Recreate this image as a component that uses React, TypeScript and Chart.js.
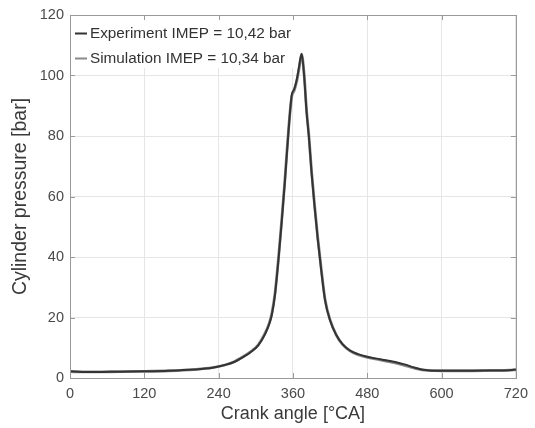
import React, { useEffect, useRef } from "react";
import { Chart, registerables } from "chart.js";

Chart.register(...registerables);

const crankAngle = [0, 20, 40, 80, 120, 160, 200, 230, 250, 265, 280, 292, 304, 315, 322, 326, 331, 337, 342, 347, 353, 358, 362, 366, 370, 374, 378, 382, 386, 390, 395, 400, 406, 412, 420, 430, 440, 452, 465, 480, 495, 510, 525, 540, 555, 568, 580, 600, 640, 680, 710, 720];
const experimentPressure = [2.2, 2.0, 2.0, 2.1, 2.2, 2.4, 2.8, 3.4, 4.3, 5.3, 7.0, 8.6, 10.8, 14.5, 18.0, 21.0, 27.5, 40.0, 52.0, 65.0, 82.0, 93.5, 95.5, 98.5, 103.0, 107.2, 100.0, 88.0, 79.0, 68.0, 56.5, 46.0, 35.0, 25.5, 19.0, 14.2, 11.2, 9.1, 7.9, 7.0, 6.4, 5.9, 5.3, 4.5, 3.5, 2.8, 2.5, 2.4, 2.4, 2.5, 2.6, 2.8];
const simulationPressure = [2.1, 2.0, 2.0, 2.1, 2.2, 2.4, 2.8, 3.4, 4.3, 5.4, 7.1, 8.7, 11.0, 14.8, 18.3, 21.5, 28.0, 40.5, 52.5, 65.5, 82.5, 93.0, 95.0, 98.0, 102.5, 107.0, 100.5, 88.5, 79.5, 68.5, 57.0, 46.5, 35.5, 25.8, 19.2, 14.2, 11.1, 9.0, 7.7, 6.8, 6.2, 5.6, 5.0, 4.2, 3.3, 2.7, 2.5, 2.4, 2.4, 2.5, 2.6, 2.7];
const xTickValues = [0, 120, 240, 360, 480, 600, 720];
const yTickValues = [0, 20, 40, 60, 80, 100, 120];
const seriesLabels = ["Experiment IMEP = 10,42 bar", "Simulation IMEP = 10,34 bar"];
const seriesColors = ["#333333", "#8a8a8a"];

const FONT = '"Liberation Sans", Arial, Helvetica, sans-serif';

const insideLegend = {
  id: "insideLegend",
  afterDatasetsDraw(chart: any) {
    const { ctx, chartArea } = chart;
    const l = chartArea.left;
    const t = chartArea.top;
    ctx.save();
    ctx.fillStyle = "#ffffff";
    ctx.fillRect(l + 1, t + 1, 226, 52);
    ctx.font = `15.3px ${FONT}`;
    ctx.textBaseline = "middle";
    ctx.textAlign = "left";
    seriesLabels.forEach((label, i) => {
      const y = t + 18.5 + i * 25;
      ctx.strokeStyle = seriesColors[i];
      ctx.lineWidth = 2;
      ctx.beginPath();
      ctx.moveTo(l + 5, y);
      ctx.lineTo(l + 17, y);
      ctx.stroke();
      ctx.fillStyle = "#333333";
      ctx.fillText(label, l + 20, y + 0.5);
    });
    ctx.restore();
  },
};

const axesFrame = {
  id: "axesFrame",
  afterDraw(chart: any) {
    const { ctx, chartArea, scales } = chart;
    const { left, right, top, bottom } = chartArea;
    ctx.save();
    ctx.strokeStyle = "#9a9a9a";
    ctx.lineWidth = 1;
    ctx.strokeRect(Math.round(left) + 0.5, Math.round(top) + 0.5, Math.round(right - left), Math.round(bottom - top));
    ctx.beginPath();
    xTickValues.forEach((v) => {
      const x = Math.round(scales.x.getPixelForValue(v)) + 0.5;
      ctx.moveTo(x, bottom);
      ctx.lineTo(x, bottom - 5);
      ctx.moveTo(x, top);
      ctx.lineTo(x, top + 5);
    });
    yTickValues.forEach((v) => {
      const y = Math.round(scales.y.getPixelForValue(v)) + 0.5;
      ctx.moveTo(left, y);
      ctx.lineTo(left + 5, y);
      ctx.moveTo(right, y);
      ctx.lineTo(right - 5, y);
    });
    ctx.stroke();
    ctx.restore();
  },
};

export default function App() {
  const canvasRef = useRef<HTMLCanvasElement | null>(null);

  useEffect(() => {
    if (!canvasRef.current) return;
    const chart = new Chart(canvasRef.current, {
      type: "line",
      data: {
        datasets: [
          {
            label: seriesLabels[0],
            data: crankAngle.map((x, i) => ({ x, y: experimentPressure[i] })),
            borderColor: seriesColors[0],
            borderWidth: 2,
            pointRadius: 0,
            cubicInterpolationMode: "monotone",
            fill: false,
          },
          {
            label: seriesLabels[1],
            data: crankAngle.map((x, i) => ({ x, y: simulationPressure[i] })),
            borderColor: seriesColors[1],
            borderWidth: 2.8,
            pointRadius: 0,
            cubicInterpolationMode: "monotone",
            fill: false,
          },
        ],
      },
      options: {
        animation: false,
        responsive: true,
        maintainAspectRatio: false,
        layout: { padding: { left: 0, top: 15, right: 16, bottom: 0 } },
        plugins: {
          legend: { display: false },
          tooltip: { enabled: false },
        },
        scales: {
          x: {
            type: "linear",
            min: 0,
            max: 720,
            afterFit: (s: any) => {
              s.height = 50;
            },
            afterBuildTicks: (s: any) => {
              s.ticks = xTickValues.map((v) => ({ value: v }));
            },
            ticks: {
              font: { family: FONT, size: 14.5 },
              color: "#4a4a4a",
              padding: 7,
              maxRotation: 0,
              autoSkip: false,
            },
            grid: { color: "#e6e6e6", drawTicks: false },
            border: { display: false },
            title: {
              display: true,
              text: "Crank angle [°CA]",
              font: { family: FONT, size: 18 },
              color: "#3a3a3a",
              padding: { top: 0, bottom: 3 },
            },
          },
          y: {
            type: "linear",
            min: 0,
            max: 120,
            afterFit: (s: any) => {
              s.width = 70;
            },
            afterBuildTicks: (s: any) => {
              s.ticks = yTickValues.map((v) => ({ value: v }));
            },
            ticks: {
              font: { family: FONT, size: 14.5 },
              color: "#4a4a4a",
              padding: 6,
            },
            grid: { color: "#e6e6e6", drawTicks: false },
            border: { display: false },
            title: {
              display: true,
              text: "Cylinder pressure [bar]",
              font: { family: FONT, size: 19.5 },
              color: "#3a3a3a",
              padding: { top: 9, bottom: 0 },
            },
          },
        },
      },
      plugins: [insideLegend, axesFrame],
    });
    return () => chart.destroy();
  }, []);

  return (
    <div style={{ position: "absolute", left: 0, top: 0, width: 535, height: 428, background: "#ffffff" }}>
      <canvas ref={canvasRef} />
    </div>
  );
}
